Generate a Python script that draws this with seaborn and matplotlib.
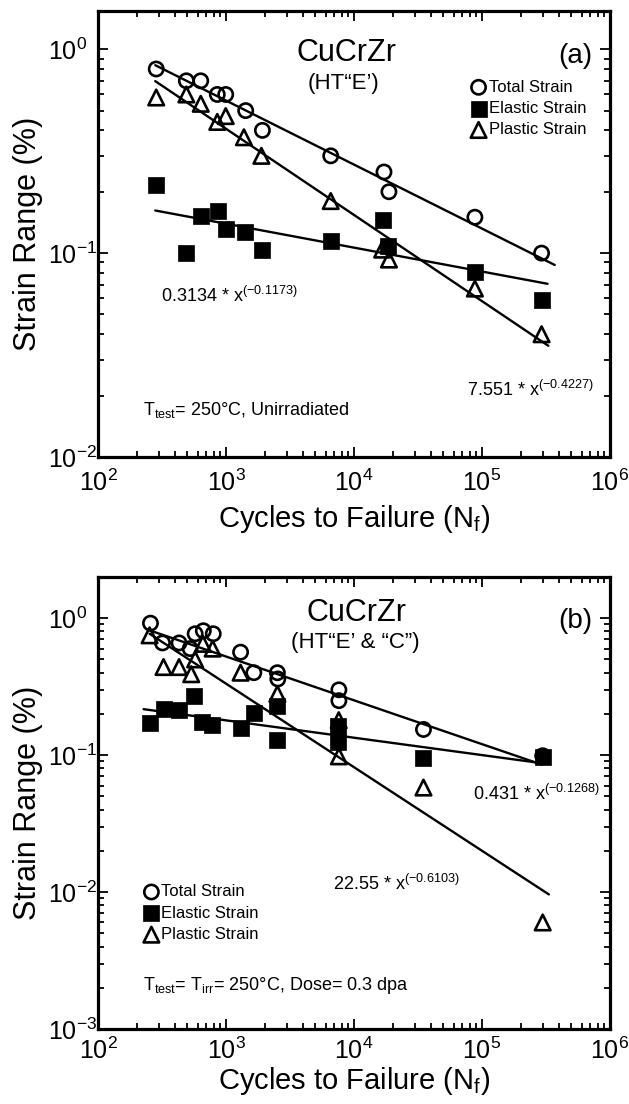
import numpy as np
import pandas as pd
import matplotlib
matplotlib.use("Agg")
import matplotlib.pyplot as plt
from matplotlib.ticker import LogLocator, NullFormatter
import seaborn as sns

# ---------------- data ----------------
# panel (a): unirradiated
a_total_N = [285, 490, 635, 855, 995, 1425, 1925, 6580, 17150, 18750, 88000, 292000]
a_total_S = [0.80, 0.70, 0.70, 0.60, 0.60, 0.50, 0.40, 0.30, 0.25, 0.20, 0.15, 0.10]
a_elastic_N = [285, 490, 635, 870, 995, 1410, 1900, 6580, 16900, 18500, 88000, 292000]
a_elastic_S = [0.216, 0.100, 0.152, 0.160, 0.132, 0.127, 0.104, 0.115, 0.145, 0.108, 0.081, 0.059]
a_plastic_N = [285, 490, 635, 855, 995, 1380, 1890, 6580, 16600, 18750, 88000, 292000]
a_plastic_S = [0.58, 0.60, 0.54, 0.44, 0.47, 0.37, 0.30, 0.18, 0.104, 0.093, 0.067, 0.040]

# panel (b): irradiated
b_total_N = [257, 319, 430, 525, 574, 665, 795, 1300, 1650, 2520, 2540, 7620, 7620, 34900, 298000]
b_total_S = [0.92, 0.66, 0.66, 0.60, 0.77, 0.81, 0.77, 0.565, 0.40, 0.40, 0.36, 0.30, 0.25, 0.154, 0.099]
b_elastic_N = [257, 325, 430, 560, 647, 782, 1300, 1650, 2520, 2520, 7550, 7550, 34900, 298000]
b_elastic_S = [0.172, 0.218, 0.212, 0.27, 0.174, 0.167, 0.157, 0.203, 0.23, 0.13, 0.164, 0.124, 0.095, 0.097]
b_plastic_N = [253, 325, 430, 535, 574, 660, 787, 1300, 2520, 7600, 7620, 34900, 298000]
b_plastic_S = [0.75, 0.44, 0.44, 0.39, 0.50, 0.65, 0.60, 0.40, 0.28, 0.18, 0.098, 0.058, 0.006]

# power-law fits  S = A * N^b  and the N range they are drawn over
a_fit_total = (4.9, -0.314)
a_fit_elastic = (0.3134, -0.1173)
a_fit_plastic = (7.551, -0.4227)
a_range_total = [280, 370000]
a_range_elastic = [280, 325000]
a_range_plastic = [280, 330000]

b_fit_total = (4.79, -0.320)
b_fit_elastic = (0.431, -0.1268)
b_fit_plastic = (22.55, -0.6103)
b_range_total = [255, 295000]
b_range_elastic = [227, 295000]
b_range_plastic = [253, 333000]

series_labels = ["Total Strain", "Elastic Strain", "Plastic Strain"]
x_ticks = [1e2, 1e3, 1e4, 1e5, 1e6]

# ---------------- style ----------------
sns.set_style("ticks")
plt.rcParams["font.family"] = ["Liberation Sans", "DejaVu Sans"]
plt.rcParams["mathtext.fontset"] = "custom"
plt.rcParams["mathtext.rm"] = "Liberation Sans"
plt.rcParams["mathtext.it"] = "Liberation Sans:italic"
plt.rcParams["mathtext.bf"] = "Liberation Sans:bold"
plt.rcParams["axes.unicode_minus"] = True
for k in ["text.color", "axes.labelcolor", "xtick.color", "ytick.color", "axes.edgecolor"]:
    plt.rcParams[k] = "black"

fig = plt.figure(figsize=(6.29, 11.04), dpi=100)
W, H = 629, 1104
axL, axR = 98, 610
ax_a = fig.add_axes([axL / W, 1 - 457 / H, (axR - axL) / W, (457 - 11) / H])
ax_b = fig.add_axes([axL / W, 1 - 1029 / H, (axR - axL) / W, (1029 - 577) / H])

MS = dict(total=dict(marker="o", s=105, facecolors="none", edgecolor="black", linewidth=1.9),
          elastic=dict(marker="s", s=125, edgecolor="black", linewidth=0.5),
          plastic=dict(marker="^", s=125, facecolors="none", edgecolor="black", linewidth=1.9))


def draw_panel(ax, data, fits, ranges, ylim, xpad):
    ax.set_xscale("log")
    ax.set_yscale("log")
    for (A, b), rng in zip(fits, ranges):
        n = np.array(rng, dtype=float)
        df = pd.DataFrame({"N": n, "S": A * n ** b})
        sns.lineplot(data=df, x="N", y="S", color="black", linewidth=1.7, ax=ax, zorder=2)
    for key, (N, S), lab in zip(["total", "elastic", "plastic"], data, series_labels):
        df = pd.DataFrame({"N": N, "S": S})
        sns.scatterplot(data=df, x="N", y="S", color="black", ax=ax, zorder=3,
                        label=lab, **MS[key])
    ax.set_xlim(1e2, 1e6)
    ax.set_ylim(*ylim)
    ax.set_xticks(x_ticks)
    ax.xaxis.set_minor_locator(LogLocator(base=10, subs=np.arange(2, 10), numticks=100))
    ax.yaxis.set_minor_locator(LogLocator(base=10, subs=np.arange(2, 10), numticks=100))
    ax.xaxis.set_minor_formatter(NullFormatter())
    ax.yaxis.set_minor_formatter(NullFormatter())
    ax.tick_params(which="both", direction="in", top=True, right=True, width=1.3, colors="black")
    ax.tick_params(which="major", length=7, labelsize=18)
    ax.tick_params(which="minor", length=4)
    ax.tick_params(axis="x", which="major", pad=xpad)
    ax.tick_params(axis="y", which="major", pad=36)
    for lbl in ax.get_yticklabels():
        lbl.set_horizontalalignment("left")
    for sp in ax.spines.values():
        sp.set_linewidth(2.3)
        sp.set_color("black")
    ax.set_xlabel("Cycles to Failure (N$_{\\mathrm{f}}$)", fontsize=21)
    ax.set_ylabel("Strain Range (%)", fontsize=22)
    ax.yaxis.set_label_coords(-0.108, 0.5)


draw_panel(ax_a,
           [(a_total_N, a_total_S), (a_elastic_N, a_elastic_S), (a_plastic_N, a_plastic_S)],
           [a_fit_total, a_fit_elastic, a_fit_plastic],
           [a_range_total, a_range_elastic, a_range_plastic],
           (1e-2, 1.54), 9)
draw_panel(ax_b,
           [(b_total_N, b_total_S), (b_elastic_N, b_elastic_S), (b_plastic_N, b_plastic_S)],
           [b_fit_total, b_fit_elastic, b_fit_plastic],
           [b_range_total, b_range_elastic, b_range_plastic],
           (1e-3, 2.0), 6)
ax_a.xaxis.set_label_coords(0.5, -0.103)
ax_b.xaxis.set_label_coords(0.5, -0.079)

leg_kw = dict(frameon=False, fontsize=12, handletextpad=0.1, handlelength=1.0,
              labelspacing=0.38, borderpad=0, borderaxespad=0, scatterpoints=1, loc="upper left")
ax_a.legend(bbox_to_anchor=(0.727, 0.846), **leg_kw)
ax_b.legend(bbox_to_anchor=(0.088, 0.320), **leg_kw)

# panel (a) texts
ax_a.text(0.486, 0.905, "CuCrZr", transform=ax_a.transAxes, ha="center", va="center", fontsize=22)
ax_a.text(0.479, 0.838, "(HT“E’)", transform=ax_a.transAxes, ha="center", va="center", fontsize=16)
ax_a.text(0.932, 0.899, "(a)", transform=ax_a.transAxes, ha="center", va="center", fontsize=20)
ax_a.text(0.123, 0.3475, "0.3134 * x$^{\\mathrm{(-0.1173)}}$", transform=ax_a.transAxes,
          ha="left", va="baseline", fontsize=13)
ax_a.text(0.7207, 0.1368, "7.551 * x$^{\\mathrm{(-0.4227)}}$", transform=ax_a.transAxes,
          ha="left", va="baseline", fontsize=13)
ax_a.text(0.088, 0.094, "T$_{\\mathrm{test}}$= 250°C, Unirradiated", transform=ax_a.transAxes,
          ha="left", va="baseline", fontsize=13)

# panel (b) texts
ax_b.text(0.505, 0.920, "CuCrZr", transform=ax_b.transAxes, ha="center", va="center", fontsize=22)
ax_b.text(0.502, 0.855, "(HT“E’ & “C”)", transform=ax_b.transAxes, ha="center", va="center", fontsize=16)
ax_b.text(0.932, 0.903, "(b)", transform=ax_b.transAxes, ha="center", va="center", fontsize=20)
ax_b.text(0.732, 0.507, "0.431 * x$^{\\mathrm{(-0.1268)}}$", transform=ax_b.transAxes,
          ha="left", va="baseline", fontsize=13)
ax_b.text(0.459, 0.3075, "22.55 * x$^{\\mathrm{(-0.6103)}}$", transform=ax_b.transAxes,
          ha="left", va="baseline", fontsize=13)
ax_b.text(0.088, 0.0863, "T$_{\\mathrm{test}}$= T$_{\\mathrm{irr}}$= 250°C, Dose= 0.3 dpa",
          transform=ax_b.transAxes, ha="left", va="baseline", fontsize=13)

fig.savefig("out.png", dpi=100)
